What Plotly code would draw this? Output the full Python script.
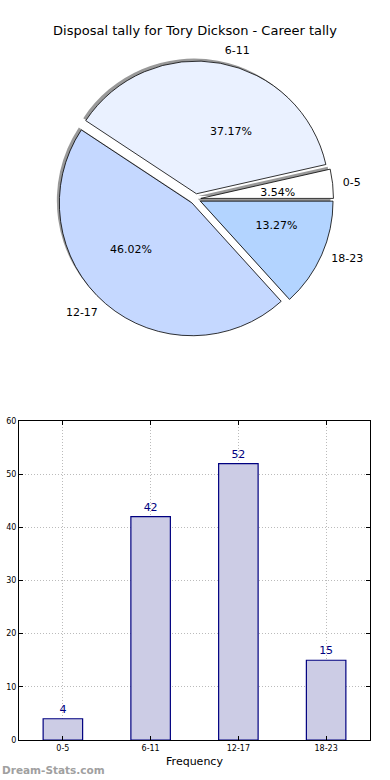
import plotly.graph_objects as go

categories = ["0-5", "6-11", "12-17", "18-23"]
counts = [4, 42, 52, 15]
pie_colors = ["#FFFFFF", "#EAF1FF", "#C5D8FF", "#B3D4FF"]
y_ticks = [0, 10, 20, 30, 40, 50, 60]

W, H = 390, 780
pull = [0.04] * len(categories)
# first slice starts at 3 o'clock, counterclockwise (plotly offsets ccw start by first slice)
rot = 90 - 360.0 * counts[0] / sum(counts)

cx, cy = 195.5, 199


def dom(R, dx=0.0, dy=0.0):
    return dict(x=[(cx - R + dx) / W, (cx + R + dx) / W],
                y=[1 - (cy + R - dy) / H, 1 - (cy - R - dy) / H])


R_pie, R_pct, R_lab = 138, 62, 145

common = dict(labels=categories, values=counts, sort=False,
              direction="counterclockwise", rotation=rot, pull=pull,
              showlegend=False)

fig = go.Figure()

# shadow
fig.add_trace(go.Pie(
    **common,
    marker=dict(colors=["rgba(110,110,110,0.7)"] * 4, line=dict(width=0)),
    textinfo="none", hoverinfo="skip",
    domain=dom(R_pie, -2.5, 2.5),
))
# main pie
fig.add_trace(go.Pie(
    **common,
    marker=dict(colors=pie_colors, line=dict(color="black", width=0.8)),
    textinfo="none",
    domain=dom(R_pie),
))
# percentage labels (at ~0.6 radius)
fig.add_trace(go.Pie(
    **common,
    marker=dict(colors=["rgba(0,0,0,0)"] * 4, line=dict(width=0)),
    texttemplate="%{percent:.2%}", textposition="outside",
    outsidetextfont=dict(family="DejaVu Sans", size=11, color="black"),
    hoverinfo="skip",
    domain=dom(R_pct),
))
# category labels (at ~1.1 radius)
fig.add_trace(go.Pie(
    **common,
    marker=dict(colors=["rgba(0,0,0,0)"] * 4, line=dict(width=0)),
    texttemplate="%{label}", textposition="outside",
    outsidetextfont=dict(family="DejaVu Sans", size=11, color="black"),
    hoverinfo="skip",
    domain=dom(R_lab),
))

# bar chart
fig.add_trace(go.Bar(
    x=categories, y=counts, width=0.45,
    marker=dict(color="#CCCCE5", line=dict(color="#000080", width=1.2)),
    text=[str(v) for v in counts], textposition="outside",
    textfont=dict(family="DejaVu Sans", size=11, color="#000080"),
    cliponaxis=False, showlegend=False,
    xaxis="x", yaxis="y",
))

fig.update_layout(
    width=W, height=H, autosize=False,
    margin=dict(l=0, r=0, t=0, b=0, pad=0, autoexpand=False),
    showlegend=False,
    paper_bgcolor="white", plot_bgcolor="white",
    font=dict(family="DejaVu Sans", color="black"),
    title=dict(text="Disposal tally for Tory Dickson - Career tally",
               x=0.5, xanchor="center", y=1 - 30 / H, yanchor="middle",
               automargin=False,
               font=dict(size=13, color="black")),
    xaxis=dict(
        domain=[19 / W, 370 / W], anchor="y", automargin=False,
        type="category", range=[-0.5, 3.5],
        showline=True, linecolor="black", linewidth=1, mirror="allticks",
        ticks="inside", ticklen=4, tickcolor="black",
        showgrid=True, gridcolor="#BBBBBB", griddash="1px,2px", gridwidth=1,
        tickfont=dict(size=8),
        title=dict(text="Frequency", font=dict(size=11), standoff=5),
        zeroline=False,
    ),
    yaxis=dict(
        domain=[1 - 740 / H, 1 - 421 / H], anchor="x", automargin=False,
        range=[0, 60], tickvals=y_ticks,
        showline=True, linecolor="black", linewidth=1, mirror="allticks",
        ticks="inside", ticklen=4, tickcolor="black",
        showgrid=True, gridcolor="#BBBBBB", griddash="1px,2px", gridwidth=1,
        tickfont=dict(size=8), zeroline=False,
    ),
    annotations=[dict(
        text="<b>Dream-Stats.com</b>", xref="paper", yref="paper",
        x=0, y=1 - 770 / H, xanchor="left", yanchor="middle", showarrow=False,
        font=dict(size=10.5, color="#A0A0A0"),
    )],
)

fig.write_html(
    "out.html",
    config=dict(displayModeBar=False, responsive=False),
    post_script="document.body.style.margin='0';document.body.style.overflow='hidden';",
)
